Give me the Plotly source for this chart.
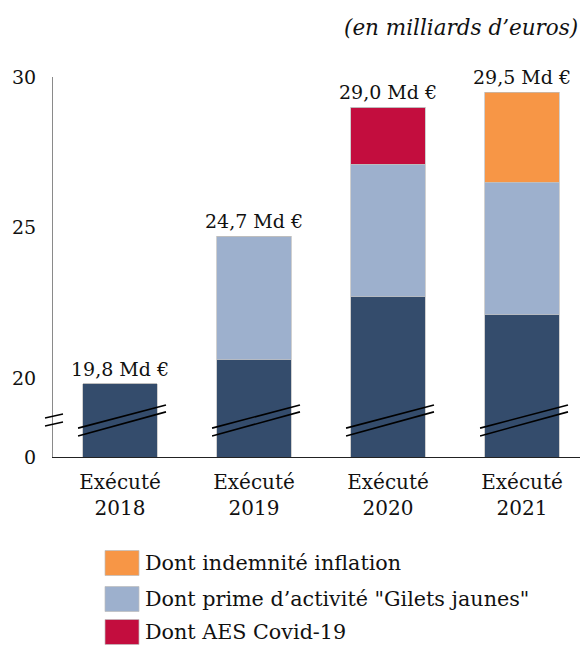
import plotly.graph_objects as go

# ---- data (milliards d'euros) ----
categories = ["Exécuté<br>2018", "Exécuté<br>2019", "Exécuté<br>2020", "Exécuté<br>2021"]
socle = [19.8, 20.6, 22.7, 22.1]
prime_gilets = [0, 4.1, 4.4, 4.4]
aes_covid = [0, 0, 1.9, 0]
indemnite_inflation = [0, 0, 0, 3.0]
totals = [19.8, 24.7, 29.0, 29.5]
total_labels = ["19,8 Md €", "24,7 Md €", "29,0 Md €", "29,5 Md €"]
tick_vals = [17.37, 20, 25, 30]
tick_text = ["0", "20", "25", "30"]

legend_names = ["Dont indemnité inflation", "Dont prime d’activité \"Gilets jaunes\"", "Dont AES Covid-19"]

C_DARK = "#344c6c"
C_LIGHT = "#9db0cd"
C_RED = "#c30d3e"
C_ORANGE = "#f79646"
FONT = "DejaVu Serif"
FS = 19

W, H = 580, 645
ML, MR, MT, MB = 53, 0, 77, 188
PW, PH = W - ML - MR, H - MT - MB
YMIN, YMAX = tick_vals[0], 30
XMIN = -0.5
XMAX = XMIN + PW / 134.0


def px_x(p):
    return (p - ML) / PW


def px_y(p):
    return (H - MB - p) / PH


fig = go.Figure()
outline = dict(color="rgba(190,190,190,0.9)", width=0.8)
series = [
    ("Socle", socle, C_DARK),
    (legend_names[1], prime_gilets, C_LIGHT),
    (legend_names[2], aes_covid, C_RED),
    (legend_names[0], indemnite_inflation, C_ORANGE),
]
for name, vals, col in series:
    fig.add_trace(go.Bar(
        x=list(range(len(categories))), y=vals, name=name,
        marker=dict(color=col, line=outline), width=0.555,
        showlegend=False, hoverinfo="skip",
    ))

annotations = []
for i, (t, lab) in enumerate(zip(totals, total_labels)):
    annotations.append(dict(
        x=i, y=t, xref="x", yref="y", text=lab, showarrow=False,
        yanchor="bottom", yshift=2, font=dict(family=FONT, size=FS, color="#111"),
    ))

annotations.append(dict(
    x=1.0, y=px_y(27), xref="paper", yref="paper", xanchor="right", yanchor="middle",
    text="(en milliards d’euros)", showarrow=False,
    font=dict(family=FONT, size=21.5, color="#111", style="italic"),
))

shapes = []
# axis-break marks across each bar
for i in range(len(categories)):
    for (ya, yb) in [(18.33, 19.10), (18.07, 18.87)]:
        shapes.append(dict(type="line", xref="x", yref="y",
                           x0=i - 0.313, x1=i + 0.343, y0=ya, y1=yb,
                           line=dict(color="black", width=1.6)))
# axis-break marks on the y axis
for (pa, pb) in [(418, 414), (426, 422)]:
    shapes.append(dict(type="line", xref="paper", yref="paper",
                       x0=px_x(45), x1=px_x(63), y0=px_y(pa), y1=px_y(pb),
                       line=dict(color="black", width=1.4)))

# legend (manual swatches)
legend_rows = [(legend_names[0], C_ORANGE, 563), (legend_names[1], C_LIGHT, 599), (legend_names[2], C_RED, 632)]
for name, col, yc in legend_rows:
    shapes.append(dict(type="rect", xref="paper", yref="paper",
                       x0=px_x(105), x1=px_x(139), y0=px_y(yc - 12.5), y1=px_y(yc + 12.5),
                       fillcolor=col, line=dict(color="rgba(190,190,190,0.9)", width=0.8)))
    annotations.append(dict(
        x=px_x(143), y=px_y(yc), xref="paper", yref="paper", xanchor="left", yanchor="middle",
        text=name, showarrow=False, font=dict(family=FONT, size=20.7, color="#111"),
    ))

fig.update_layout(
    width=W, height=H, barmode="stack",
    margin=dict(l=ML, r=MR, t=MT, b=MB),
    plot_bgcolor="white", paper_bgcolor="white",
    font=dict(family=FONT, size=FS, color="#111"),
    annotations=annotations, shapes=shapes, showlegend=False,
    xaxis=dict(
        range=[XMIN, XMAX], tickvals=list(range(len(categories))), ticktext=categories,
        showline=True, linecolor="#222", linewidth=1, showgrid=False, zeroline=False,
        ticks="", ticklabelstandoff=7, tickfont=dict(family=FONT, size=20, color="#111"),
    ),
    yaxis=dict(
        range=[YMIN, YMAX], tickvals=tick_vals, ticktext=tick_text,
        showline=True, linecolor="#8a8a8a", linewidth=1.2, showgrid=False, zeroline=False,
        ticks="", ticklabelstandoff=12, tickfont=dict(family=FONT, size=FS, color="#111"),
    ),
)

fig.write_html("out.html")
